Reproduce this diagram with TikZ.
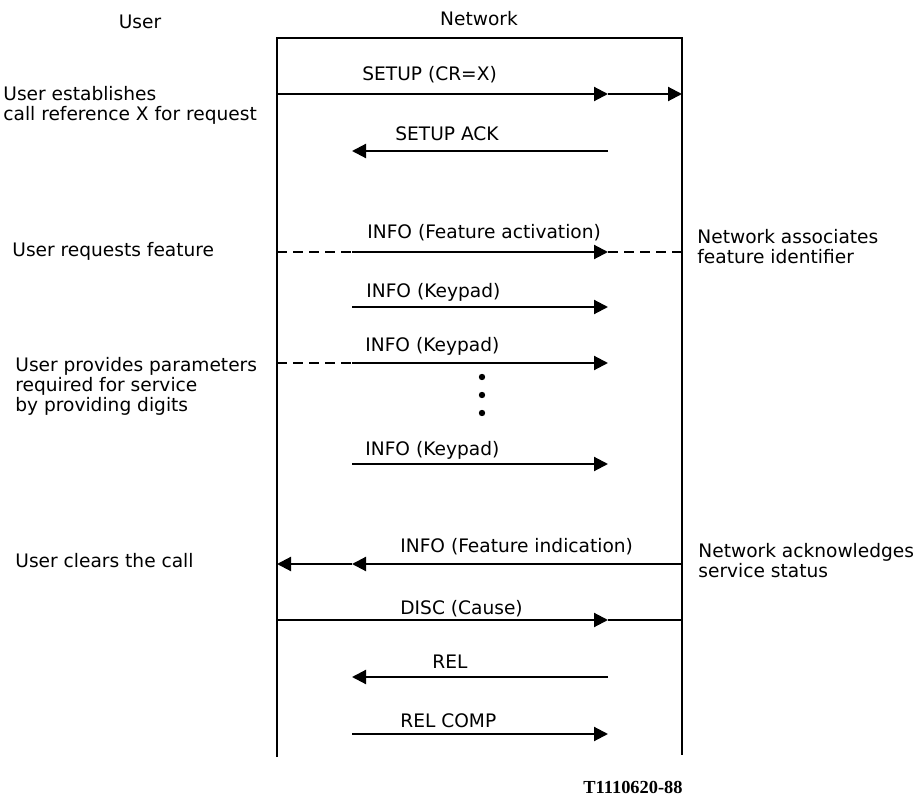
\documentclass[tikz,border=0pt]{standalone}
\usepackage{fontspec}
\setmainfont{DejaVu Sans}
\newfontfamily\figfont{Liberation Serif}
\usepackage{tikz}
\usetikzlibrary{arrows.meta}
\tikzset{>={Triangle[width=7pt,length=7pt]}}
\tikzset{
  side/.style={line width=1.1pt},
  msg/.style={line width=1.05pt},
  dashes/.style={line width=1.05pt,dash pattern=on 5pt off 3pt},
  msglabel/.style={inner sep=0pt,anchor=base west,font=\fontsize{9.3}{10}\selectfont},
  remark/.style={inner sep=0pt,anchor=base west,align=left,font=\fontsize{9.3}{10}\selectfont},
  party/.style={inner sep=0pt,anchor=base,font=\fontsize{9.3}{10}\selectfont},
  dot/.style={circle,fill,inner sep=0pt,minimum size=3.2pt}
}

\begin{document}
\begin{tikzpicture}[x=0.5pt,y=-0.5pt]
\useasboundingbox (0,0) rectangle (918,798);

% sides
\coordinate (usertop) at (277,38);
\coordinate (userbot) at (277,757);
\coordinate (nettop) at (682,38);
\coordinate (netbot) at (682,755);
\draw[side] (userbot) -- (usertop) -- (nettop) -- (netbot);

\path (140,28) node [party] (user) {User};
\path (479,25) node [party] (network) {Network};

% message ends
\coordinate (setupA) at (277,94);
\coordinate (setupB) at (608,94);
\coordinate (setupC) at (682,94);
\coordinate (ackA) at (608,151);
\coordinate (ackB) at (352,151);
\coordinate (actA) at (277,252);
\coordinate (actB) at (352,252);
\coordinate (actC) at (608,252);
\coordinate (actD) at (682,252);
\coordinate (keyoneA) at (352,307);
\coordinate (keyoneB) at (608,307);
\coordinate (keytwoA) at (277,363);
\coordinate (keytwoB) at (352,363);
\coordinate (keytwoC) at (608,363);
\coordinate (keythreeA) at (352,464);
\coordinate (keythreeB) at (608,464);
\coordinate (indA) at (682,564);
\coordinate (indB) at (352,564);
\coordinate (indC) at (277,564);
\coordinate (discA) at (277,620);
\coordinate (discB) at (608,620);
\coordinate (discC) at (682,620);
\coordinate (relA) at (608,677);
\coordinate (relB) at (352,677);
\coordinate (compA) at (352,734);
\coordinate (compB) at (608,734);

% messages
\draw[msg,->] (setupA) -- (setupB);
\draw[msg,->] (setupB) -- (setupC);
\path (362,80) node [msglabel] (setup) {SETUP (CR=X)};

\draw[msg,->] (ackA) -- (ackB);
\path (395,140) node [msglabel] (ack) {SETUP ACK};

\draw[dashes] (actA) -- (actB);
\draw[msg,->] (actB) -- (actC);
\draw[dashes] (actC) -- (actD);
\path (367,238) node [msglabel] (act) {INFO (Feature activation)};

\draw[msg,->] (keyoneA) -- (keyoneB);
\path (366,297) node [msglabel] (keyone) {INFO (Keypad)};

\draw[dashes] (keytwoA) -- (keytwoB);
\draw[msg,->] (keytwoB) -- (keytwoC);
\path (365,351) node [msglabel] (keytwo) {INFO (Keypad)};

\path (482,377) node [dot] (dotA) {};
\path (482,395) node [dot] (dotB) {};
\path (482,413) node [dot] (dotC) {};

\draw[msg,->] (keythreeA) -- (keythreeB);
\path (365,455) node [msglabel] (keythree) {INFO (Keypad)};

\draw[msg,->] (indA) -- (indB);
\draw[msg,->] (indB) -- (indC);
\path (400,552) node [msglabel] (ind) {INFO (Feature indication)};

\draw[msg,->] (discA) -- (discB);
\draw[msg] (discB) -- (discC);
\path (400,614) node [msglabel] (disc) {DISC (Cause)};

\draw[msg,->] (relA) -- (relB);
\path (432,668) node [msglabel] (rel) {REL};

\draw[msg,->] (compA) -- (compB);
\path (400,727) node [msglabel] (comp) {REL COMP};

% remarks (base = last line)
\path (3,120) node [remark] (establish) {User establishes\\call reference X for request};
\path (12,256) node [remark] (request) {User requests feature};
\path (15,411) node [remark] (provide) {User provides parameters\\required for service\\by providing digits};
\path (15,567) node [remark] (clear) {User clears the call};
\path (697,263) node [remark] (associate) {Network associates\\feature identifier};
\path (698,577) node [remark] (acknowledge) {Network acknowledges\\service status};

\path (683,793) node [inner sep=0pt,anchor=base east,font=\figfont\bfseries\fontsize{9.2}{10}\selectfont] (figno) {T1110620-88};

\end{tikzpicture}
\end{document}
